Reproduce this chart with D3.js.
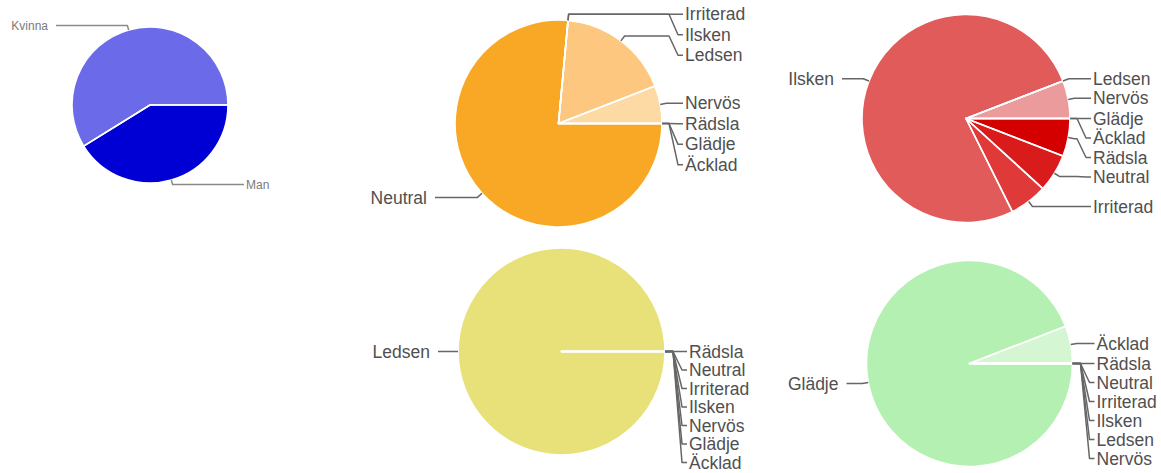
<!DOCTYPE html>
<html>
<head>
<meta charset="utf-8">
<script src="https://cdn.jsdelivr.net/npm/d3@7"></script>
<style>
  body { margin: 0; background: #fff; }
  svg { display: block; font-family: "Liberation Sans", Arial, Helvetica, sans-serif; }
</style>
</head>
<body>
<svg id="chart" width="1161" height="473"></svg>
<script>
// data, in the order the slices run (clockwise from 3 o'clock)
const genders = ["Man", "Kvinna"];
const genderCounts = [7, 10];

const emotions = ["Rädsla", "Neutral", "Irriterad", "Ilsken", "Ledsen", "Nervös", "Glädje", "Äcklad"];
const neutralCounts = [0, 13, 0, 0, 3, 1, 0, 0];
const ilskenCounts  = [1, 1, 1, 13, 0, 1, 0, 0];
const ledsenCounts  = [0, 0, 0, 0, 17, 0, 0, 0];
const gladjeCounts  = [0, 0, 0, 0, 0, 0, 16, 1];

// colours
const genderColors = ["#0000d4", "#6b6be9"];
const orangeColors = ["#f59a10", "#f9a825", "#fab346", "#fbbd62", "#fdc780", "#fdd9a4", "#fee5c2", "#fff0dd"];
const redColors    = ["#d40000", "#da1b1b", "#df3939", "#e15b5b", "#e67a7a", "#eb9b9b", "#f0b8b8", "#f5d2d2"];
const yellowColors = ["#e3d85a", "#e5db63", "#e6dd6c", "#e7df74", "#e8e17a", "#ece690", "#f0eba8", "#f4f0c0"];
const greenColors  = ["#8fe38c", "#96e593", "#9de89a", "#a4eba2", "#abeda8", "#b0efad", "#b3f0b1", "#d5f6d3"];

const panels = [
  { labels: genders,  values: genderCounts,  colors: genderColors, cx: 150,   cy: 105,   r: 78,
    font: 12, text: "#7a7a7a", line: "#8a8a8a", gapR: 18, gapL: 24, step: 14 },
  { labels: emotions, values: neutralCounts, colors: orangeColors, cx: 558.5, cy: 123.5, r: 103.5,
    font: 17.5, text: "#505050", line: "#666", gapR: 23, gapL: 28, step: 20.5 },
  { labels: emotions, values: ilskenCounts,  colors: redColors,    cx: 966,   cy: 118.5, r: 104,
    font: 17.5, text: "#505050", line: "#666", gapR: 23, gapL: 28, step: 19.5 },
  { labels: emotions, values: ledsenCounts,  colors: yellowColors, cx: 561.5, cy: 351.5, r: 103.5,
    font: 17.5, text: "#505050", line: "#666", gapR: 24, gapL: 28, step: 18.5 },
  { labels: emotions, values: gladjeCounts,  colors: greenColors,  cx: 969.5, cy: 363.5, r: 103,
    font: 17.5, text: "#505050", line: "#666", gapR: 24, gapL: 28, step: 19 }
];

const svg = d3.select("#chart");

function drawPie(p) {
  const g = svg.append("g").attr("transform", `translate(${p.cx},${p.cy})`);

  const data = p.labels.map((l, i) => ({ label: l, value: p.values[i], color: p.colors[i] }));
  const pie = d3.pie()
    .sort(null)
    .value(d => d.value)
    .startAngle(Math.PI / 2)
    .endAngle(Math.PI / 2 + 2 * Math.PI);
  const arcs = pie(data);
  const arc = d3.arc().innerRadius(0).outerRadius(p.r);

  g.append("g").selectAll("path")
    .data(arcs)
    .join("path")
    .attr("d", arc)
    .attr("fill", d => d.data.color);

  // white separators drawn on top, so zero slices still show as a line
  g.append("g").selectAll("path")
    .data(arcs)
    .join("path")
    .attr("d", arc)
    .attr("fill", "none")
    .attr("stroke", "#fff")
    .attr("stroke-width", 1.6)
    .attr("stroke-linejoin", "round");

  // label anchors
  const R = p.r * 1.06;
  const items = arcs.map(a => {
    const m = (a.startAngle + a.endAngle) / 2;
    const s = Math.sin(m), c = Math.cos(m);
    return {
      label: a.data.label, index: a.index,
      right: s > -1e-6,
      ex: p.r * s, ey: -p.r * c,
      bx: R * s, by: Math.round(-R * c * 100) / 100
    };
  });

  [true, false].forEach(side => {
    const list = items.filter(d => d.right === side)
      .sort((a, b) => (a.by - b.by) || (a.index - b.index));
    let prev = -Infinity;
    list.forEach(d => {
      d.y = Math.max(d.by, prev + p.step);
      prev = d.y;
    });
  });

  const line = d3.line();
  items.forEach(d => {
    let pts, tx, anchor;
    if (d.right) {
      tx = p.r + p.gapR;
      const elbow = Math.max(d.bx, tx - 16);
      pts = [[d.ex, d.ey], [d.bx, d.by], [elbow, d.by], [tx - 7, d.y], [tx - 2, d.y]];
      anchor = "start";
    } else {
      tx = -(p.r + p.gapL);
      const elbow = Math.min(d.bx, tx + 20);
      pts = [[d.ex, d.ey], [d.bx, d.by], [elbow, d.by], [tx + 12, d.y], [tx + 8, d.y]];
      anchor = "end";
    }
    g.append("path")
      .attr("d", line(pts))
      .attr("fill", "none")
      .attr("stroke", p.line)
      .attr("stroke-width", 1.5)
      .attr("stroke-linejoin", "round");
    g.append("text")
      .attr("x", tx)
      .attr("y", d.y)
      .attr("dy", "0.35em")
      .attr("text-anchor", anchor)
      .attr("font-size", p.font)
      .attr("fill", p.text)
      .text(d.label);
  });
}

panels.forEach(drawPie);
</script>
</body>
</html>
